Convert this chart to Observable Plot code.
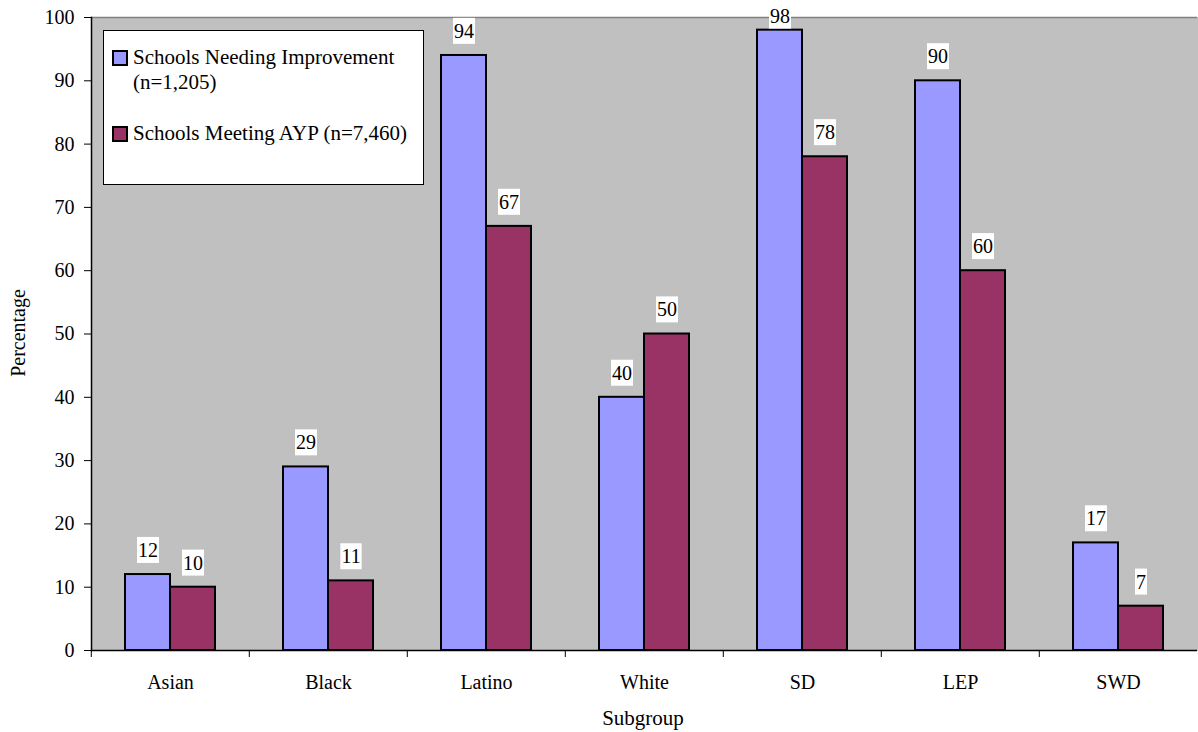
<!DOCTYPE html>
<html>
<head>
<meta charset="utf-8">
<script src="https://cdn.jsdelivr.net/npm/d3@7"></script>
<script src="https://cdn.jsdelivr.net/npm/@observablehq/plot@0.6"></script>
<style>
  html, body { margin: 0; padding: 0; background: white; }
  #wrap { position: relative; width: 1198px; height: 732px; font-family: "Liberation Serif", "Times New Roman", serif; color: black; }
  #wrap svg, #wrap svg text { font-family: "Liberation Serif", "Times New Roman", serif !important; }
  .legend { position: absolute; left: 103px; top: 30px; width: 321px; height: 155px; box-sizing: border-box; border: 1px solid black; background: white; font-size: 21px; }
  .legend .sw { position: absolute; width: 12px; height: 12px; border: 2px solid black; box-sizing: content-box; }
  .legend .lt { position: absolute; left: 29px; line-height: 25px; white-space: nowrap; }
  .ytitle { position: absolute; left: 18px; top: 333px; transform: translate(-50%, -50%) rotate(-90deg); font-size: 20px; white-space: nowrap; }
  .xtitle { position: absolute; left: 643px; top: 718px; transform: translate(-50%, -50%); font-size: 21px; white-space: nowrap; }
</style>
</head>
<body>
<div id="wrap"></div>
<script>
const categories = ["Asian", "Black", "Latino", "White", "SD", "LEP", "SWD"];
const seriesNames = ["Schools Needing Improvement (n=1,205)", "Schools Meeting AYP (n=7,460)"];
const needingImprovement = [12, 29, 94, 40, 98, 90, 17];
const meetingAYP = [10, 11, 67, 50, 78, 60, 7];
const yTicks = [0, 10, 20, 30, 40, 50, 60, 70, 80, 90, 100];
const colors = ["#9999ff", "#993366"];

const data = categories.flatMap((c, i) => [
  {cat: c, series: seriesNames[0], value: needingImprovement[i]},
  {cat: c, series: seriesNames[1], value: meetingAYP[i]}
]);

const W = 1198, H = 732, ML = 89, MR = 0, MT = 17, MB = 82;
const step = (W - ML - MR) / categories.length;
const font = '"Liberation Serif", "Times New Roman", serif';

const chart = Plot.plot({
  width: W, height: H,
  marginLeft: ML, marginRight: MR, marginTop: MT, marginBottom: MB,
  style: {fontFamily: font, fontSize: "20px", color: "black", background: "white"},
  fx: {domain: categories, padding: 0, label: null, axis: null},
  x: {domain: seriesNames, paddingInner: 0, paddingOuter: 0.722, axis: null},
  y: {domain: [0, 100], axis: null},
  color: {domain: seriesNames, range: colors},
  marks: [
    Plot.frame({fill: "#c0c0c0", stroke: "#c0c0c0"}),
    Plot.ruleY([100], {stroke: "#808080", strokeWidth: 1.5}),
    Plot.barY(data, {fx: "cat", x: "series", y: "value", fill: "series", stroke: "black", strokeWidth: 2}),
    Plot.ruleY([0], {stroke: "black", strokeWidth: 1.5}),
    Plot.frame({anchor: "left", stroke: "black", strokeWidth: 1.5, facetAnchor: "left"}),
    Plot.axisY({ticks: yTicks, tickSize: 7, tickPadding: 10, label: null, fontSize: 20, tickFormat: d => String(d)}),
    Plot.axisFx({anchor: "bottom", tickSize: 0, tickPadding: 24, label: null, fontSize: 20}),
    Plot.axisFx({anchor: "bottom", text: null, tickSize: 7, dx: -step / 2, label: null}),
    Plot.text(data.filter(d => d.value <= 95), {fx: "cat", x: "series", y: "value", text: d => String(d.value), dy: -24, fontSize: 20, fill: "black"}),
    Plot.text(data.filter(d => d.value > 95), {fx: "cat", x: "series", y: "value", text: d => String(d.value), dy: -14, fontSize: 20, fill: "black"})
  ]
});

const wrap = document.getElementById("wrap");
wrap.appendChild(chart);

// white boxes behind the value labels
const svg = wrap.querySelector("svg");
svg.querySelectorAll('g[aria-label="text"] text').forEach(t => {
  const b = t.getBBox();
  const r = document.createElementNS("http://www.w3.org/2000/svg", "rect");
  r.setAttribute("x", b.x - 1);
  r.setAttribute("y", b.y - 2);
  r.setAttribute("width", b.width + 2);
  r.setAttribute("height", b.height + 4);
  r.setAttribute("fill", "white");
  if (t.getAttribute("transform")) r.setAttribute("transform", t.getAttribute("transform"));
  t.parentNode.insertBefore(r, t);
});

// legend
const legend = document.createElement("div");
legend.className = "legend";
const entries = [
  {lines: ["Schools Needing Improvement", "(n=1,205)"], color: colors[0], swTop: 19, textTop: 14},
  {lines: ["Schools Meeting AYP (n=7,460)"], color: colors[1], swTop: 95, textTop: 90}
];
entries.forEach(e => {
  const sw = document.createElement("div");
  sw.className = "sw";
  sw.style.left = "8px";
  sw.style.top = e.swTop + "px";
  sw.style.background = e.color;
  legend.appendChild(sw);
  const lt = document.createElement("div");
  lt.className = "lt";
  lt.style.top = e.textTop + "px";
  lt.innerHTML = e.lines.join("<br>");
  legend.appendChild(lt);
});
wrap.appendChild(legend);

const yt = document.createElement("div");
yt.className = "ytitle";
yt.textContent = "Percentage";
wrap.appendChild(yt);

const xt = document.createElement("div");
xt.className = "xtitle";
xt.textContent = "Subgroup";
wrap.appendChild(xt);
</script>
</body>
</html>
